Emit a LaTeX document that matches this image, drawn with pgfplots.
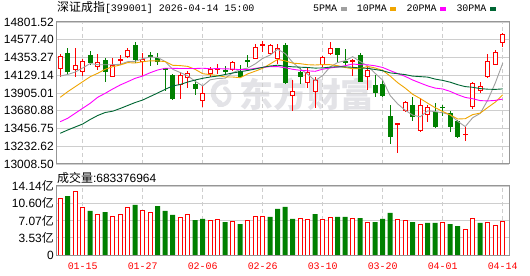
\documentclass[border=0pt]{standalone}
\usepackage{pgfplots}
\pgfplotsset{compat=1.18}
\usepackage{pgfplotstable}
\usepackage{fontspec}
\setmainfont{Liberation Sans}
\newfontfamily\cjk{Noto Sans CJK SC}
\newfontfamily\mono{Liberation Mono}

\definecolor{upred}{RGB}{255,0,0}
\definecolor{dngreen}{RGB}{0,128,0}
\definecolor{mafive}{RGB}{160,160,160}
\definecolor{maten}{RGB}{240,165,0}
\definecolor{matwenty}{RGB}{255,0,255}
\definecolor{mathirty}{RGB}{0,102,51}
\definecolor{gridc}{RGB}{206,206,206}
\definecolor{framec}{RGB}{150,150,150}
\definecolor{wmark}{RGB}{227,227,231}

% up candles (close >= open): i open high low close
\pgfplotstableread{
i o h l c
0 14204.3 14397.4 14107.0 14372.2
2 14195.4 14469.4 14107.0 14254.8
3 14170.2 14340.6 14126.0 14309.1
5 14239.6 14397.4 14195.4 14296.4
7 14113.3 14343.1 14113.3 14258.5
8 14321.7 14384.8 14264.9 14330.5
9 14363.4 14466.9 14346.9 14447.9
11 14300.2 14413.9 14119.6 14334.3
16 14002.2 14173.9 13825.4 14132.3
17 14090.6 14189.1 13968.1 14157.5
19 13807.8 13993.4 13728.2 13901.2
20 14144.9 14237.1 14107.0 14214.4
21 14195.4 14277.5 14144.9 14214.4
23 14195.4 14312.8 14186.6 14296.4
26 14340.6 14519.9 14330.5 14482.0
27 14511.1 14561.6 14426.5 14519.9
28 14393.7 14523.7 14391.1 14511.1
29 14334.3 14523.7 14271.2 14469.4
31 13867.1 14069.1 13677.7 13930.2
33 14027.5 14216.9 13974.4 14173.9
34 13921.4 14110.8 13711.8 14069.1
35 14262.3 14372.2 14239.6 14355.8
36 14393.7 14545.2 14391.1 14469.4
39 14305.3 14340.6 14119.6 14317.9
41 14113.3 14245.9 13949.2 14195.4
45 13507.2 13522.4 13151.2 13522.4
46 13673.9 13807.8 13671.4 13795.1
48 13421.4 13838.1 13418.8 13753.5
49 13627.2 13753.5 13538.8 13724.4
54 13381.0 13475.7 13302.7 13387.3
55 13724.4 14047.7 13699.2 14035.0
56 13934.0 14043.9 13901.2 13989.6
57 14113.3 14397.4 14094.4 14312.8
58 14258.5 14444.2 14254.8 14418.9
59 14536.3 14666.4 14482.0 14646.2
}\upc

% down candles (close < open)
\pgfplotstableread{
i o h l c
1 14413.9 14477.0 14138.6 14166.4
4 14384.8 14435.3 14254.8 14283.8
6 14317.9 14346.9 14043.9 14166.4
10 14507.3 14549.0 14280.0 14321.7
12 14384.8 14422.7 14249.7 14363.4
13 14343.1 14416.4 14264.9 14300.2
14 14220.7 14227.0 13930.2 14195.4
15 14132.3 14144.9 13822.9 13825.4
18 14024.9 14075.5 13879.7 13955.5
22 14201.7 14252.2 14151.2 14173.9
24 14182.8 14264.9 14103.2 14110.8
25 14328.0 14384.8 14237.1 14300.2
30 14511.1 14542.7 14018.6 14027.5
32 14173.9 14224.5 14018.6 14103.2
37 14469.4 14477.0 14280.0 14384.8
38 14312.8 14456.8 14258.5 14287.6
40 14384.8 14413.9 14043.9 14047.7
42 14006.0 14132.3 13860.8 13911.3
43 14024.9 14069.1 13860.8 13863.3
44 13614.6 13753.5 13261.0 13345.6
47 13753.5 13850.7 13551.4 13605.7
50 13668.9 13778.7 13469.4 13471.9
51 13728.2 13753.5 13614.6 13719.4
52 13652.4 13677.7 13416.3 13479.5
53 13551.4 13570.4 13343.1 13345.6
}\dnc

% moving averages
\pgfplotstableread{
i ma5 ma10 ma20 ma30
0 14119.6 13850.7 13542.6 13396.1
1 14138.6 13921.4 13585.5 13437.8
2 14170.2 13984.5 13648.7 13475.7
3 14220.7 14047.7 13711.8 13513.6
4 14277.5 14110.8 13774.9 13570.4
5 14262.3 14153.7 13850.7 13620.9
6 14262.3 14204.3 13901.2 13658.8
7 14262.3 14237.1 13955.5 13675.2
8 14267.4 14258.5 14006.0 13709.3
9 14300.2 14288.8 14047.7 13747.2
10 14305.3 14283.8 14090.6 13785.0
11 14338.1 14300.2 14119.6 13816.6
12 14359.6 14311.6 14161.3 13860.8
13 14353.2 14310.3 14195.4 13905.0
14 14302.7 14301.5 14216.9 13951.7
15 14204.3 14254.8 14216.9 13993.4
16 14163.8 14251.0 14214.3 14012.3
17 14122.2 14240.9 14214.3 14043.9
18 14052.7 14203.0 14214.3 14069.1
19 13994.6 14148.7 14218.1 14090.6
20 14071.7 14137.3 14210.6 14107.0
21 14088.1 14126.0 14213.1 14119.6
22 14091.9 14107.0 14209.3 14138.6
23 14160.1 14107.0 14208.0 14157.5
24 14201.7 14098.2 14199.2 14173.9
25 14219.4 14146.2 14200.5 14189.1
26 14272.4 14180.3 14215.6 14208.0
27 14341.9 14216.9 14228.2 14229.5
28 14384.8 14272.4 14238.3 14245.9
29 14456.8 14329.3 14238.3 14256.0
30 14402.5 14310.3 14224.5 14243.4
31 14291.4 14282.5 14204.3 14235.8
32 14208.0 14275.0 14191.6 14230.8
33 14141.1 14262.3 14185.3 14227.0
34 14060.3 14258.5 14179.0 14219.4
35 14126.0 14263.6 14205.5 14221.9
36 14234.6 14262.3 14221.9 14232.0
37 14290.1 14249.7 14233.3 14235.8
38 14312.8 14227.0 14249.7 14234.6
39 14363.4 14211.8 14271.2 14229.5
40 14301.5 14214.4 14262.3 14220.7
41 14247.2 14240.9 14261.1 14215.6
42 14152.5 14220.7 14248.4 14201.7
43 14066.6 14190.4 14227.0 14186.6
44 13872.2 14118.4 14187.8 14158.8
45 13767.4 14035.0 14150.0 14148.7
46 13687.8 13966.9 14114.6 14137.3
47 13625.9 13888.6 14069.1 14118.4
48 13604.5 13835.5 14031.3 14112.1
49 13680.2 13776.2 13994.6 14105.8
50 13670.1 13719.4 13966.9 14080.5
51 13655.0 13671.4 13955.5 14064.1
52 13629.7 13628.5 13925.2 14041.4
53 13547.6 13576.7 13883.5 14009.8
54 13480.7 13580.5 13849.4 13985.8
55 13593.1 13632.2 13833.0 13977.0
56 13647.4 13651.2 13809.0 13960.5
57 13814.1 13721.9 13805.2 13953.0
58 14028.7 13788.8 13811.5 13950.5
59 14280.0 13881.0 13828.0 13956.8
}\matable

% volume (100 million), red = close above previous close
\pgfplotstableread{
i v
0 11.62
2 12.97
3 9.77
5 8.33
7 7.99
8 8.20
9 9.77
11 9.22
12 8.74
16 7.72
17 8.20
20 7.10
21 7.31
23 6.90
25 7.10
26 7.99
27 7.99
32 7.51
33 7.31
35 7.31
36 7.72
39 7.51
41 6.56
45 7.31
46 7.10
48 6.35
51 6.56
54 5.26
55 7.51
57 6.69
58 6.08
59 6.83
}\volup

\pgfplotstableread{
i v
1 12.09
4 9.02
6 8.81
10 10.25
13 10.04
14 9.02
15 8.20
18 7.17
19 7.38
22 6.76
24 6.35
28 7.79
29 9.43
30 9.84
31 7.38
34 8.40
37 7.79
38 7.79
40 7.58
42 6.76
43 7.38
44 8.61
47 6.76
49 6.56
50 6.56
52 6.35
53 5.94
56 6.56
}\voldn

\pgfplotsset{
  kstyle/.style={
    scale only axis, width=453bp,
    xmin=-0.56, xmax=59.84,
    xtick={3,11,19,27,35,43,51,59},
    scaled y ticks=false, scaled x ticks=false,
    grid=major,
    x grid style={gridc, dash pattern=on 4bp off 3bp, line width=0.8bp},
    y grid style={gridc, line width=0.8bp},
    axis line style={framec, line width=1bp},
    major tick length=0pt,
    tick style={draw=none},
    yticklabel style={font=\fontsize{12}{14}\selectfont, text=black, inner sep=0pt, xshift=-2bp},
  }
}

\begin{document}
\begin{tikzpicture}
\path[use as bounding box, fill=white] (0bp,0bp) rectangle (530bp,276bp);
% watermark logo and text
\draw[wmark, line width=5bp, line cap=round] (226bp,194bp) arc (80:250:11bp);
\draw[wmark, line width=4bp, line cap=round] (219bp,171bp) arc (260:420:9bp);
\node[anchor=center, text=wmark, font=\fontsize{34}{34}\selectfont\cjk\bfseries] at (307bp,182bp) {东方财富};

\begin{axis}[kstyle,
  at={(56bp,112bp)}, anchor=south west, height=142bp,
  ymin=13008.50, ymax=14801.52,
  xticklabels={},
  ytick={13008.50,13232.62,13456.75,13680.88,13905.01,14129.14,14353.27,14577.40,14801.52},
  yticklabels={13008.50,13232.62,13456.75,13680.88,13905.01,14129.14,14353.27,14577.40,14801.52},
  legend columns=4, legend plot pos=right,
  legend image code/.code={\fill (0bp,-1.5bp) rectangle (5bp,1.5bp);},
  legend style={at={(axis description cs:1,1)}, anchor=south east, xshift=-13bp, yshift=8bp,
    draw=none, fill=none, inner sep=0pt, font=\mono\fontsize{10}{12}\selectfont,
    column sep=3bp, /tikz/every even column/.append style={column sep=10bp},
    nodes={inner sep=0.5bp}},
]
% green candles: wicks and bodies
\addplot[forget plot, draw=none, mark=none,
  error bars/.cd, y dir=both, y explicit, error mark=none,
  error bar style={draw=dngreen, line width=1bp, solid}]
  table[x=i, y expr={(\thisrow{h}+\thisrow{l})/2}, y error expr={(\thisrow{h}-\thisrow{l})/2}] {\dnc};
\addplot[forget plot, draw=none, mark=none,
  error bars/.cd, y dir=both, y explicit, error mark=none,
  error bar style={draw=dngreen, line width=5bp, solid}]
  table[x=i, y expr={(\thisrow{o}+\thisrow{c})/2}, y error expr={max((\thisrow{o}-\thisrow{c})/2,6.3)}] {\dnc};
% red candles: wicks, bodies, hollow inside
\addplot[forget plot, draw=none, mark=none,
  error bars/.cd, y dir=both, y explicit, error mark=none,
  error bar style={draw=upred, line width=1bp, solid}]
  table[x=i, y expr={(\thisrow{h}+\thisrow{l})/2}, y error expr={(\thisrow{h}-\thisrow{l})/2}] {\upc};
\addplot[forget plot, draw=none, mark=none,
  error bars/.cd, y dir=both, y explicit, error mark=none,
  error bar style={draw=upred, line width=5bp, solid}]
  table[x=i, y expr={(\thisrow{o}+\thisrow{c})/2}, y error expr={max((\thisrow{c}-\thisrow{o})/2,6.3)}] {\upc};
\addplot[forget plot, draw=none, mark=none,
  error bars/.cd, y dir=both, y explicit, error mark=none,
  error bar style={draw=white, line width=3bp, solid}]
  table[x=i, y expr={(\thisrow{o}+\thisrow{c})/2}, y error expr={max((\thisrow{c}-\thisrow{o})/2-12.63,0)}] {\upc};
% moving averages
\addplot[color=mafive, line width=0.9bp, mark=none] table[x=i, y=ma5] {\matable};
\addlegendentry{5PMA}
\addplot[color=maten, line width=0.9bp, mark=none] table[x=i, y=ma10] {\matable};
\addlegendentry{10PMA}
\addplot[color=matwenty, line width=0.9bp, mark=none] table[x=i, y=ma20] {\matable};
\addlegendentry{20PMA}
\addplot[color=mathirty, line width=0.9bp, mark=none] table[x=i, y=ma30] {\matable};
\addlegendentry{30PMA}
\end{axis}

\node[anchor=west, inner sep=0pt] at (57bp,268bp) {{\cjk\fontsize{12}{14}\selectfont 深证成指}{\mono\fontsize{10}{12}\selectfont [399001] 2026-04-14 15:00}};
\node[anchor=west, inner sep=0pt] at (57bp,98.5bp) {{\cjk\fontsize{12}{14}\selectfont 成交量}{\fontsize{12}{14}\selectfont :683376964}};

\begin{axis}[kstyle,
  at={(56bp,21bp)}, anchor=south west, height=69bp,
  ymin=0, ymax=14.14,
  xticklabels={01-15,01-27,02-06,02-26,03-10,03-20,04-01,04-14},
  xticklabel style={text=upred, font=\mono\fontsize{10}{12}\selectfont, inner sep=0pt, yshift=-7.5bp},
  ytick={0,3.53,7.07,10.60,14.14},
  yticklabels={0,3.53{\cjk 亿},7.07{\cjk 亿},10.60{\cjk 亿},14.14{\cjk 亿}},
]
\addplot[forget plot, ybar, bar width=4bp, bar shift=0pt, draw=upred, fill=white, line width=1bp]
  table[x=i, y=v] {\volup};
\addplot[forget plot, ybar, bar width=5bp, bar shift=0pt, draw=none, fill=dngreen]
  table[x=i, y=v] {\voldn};
\end{axis}
\end{tikzpicture}
\end{document}
